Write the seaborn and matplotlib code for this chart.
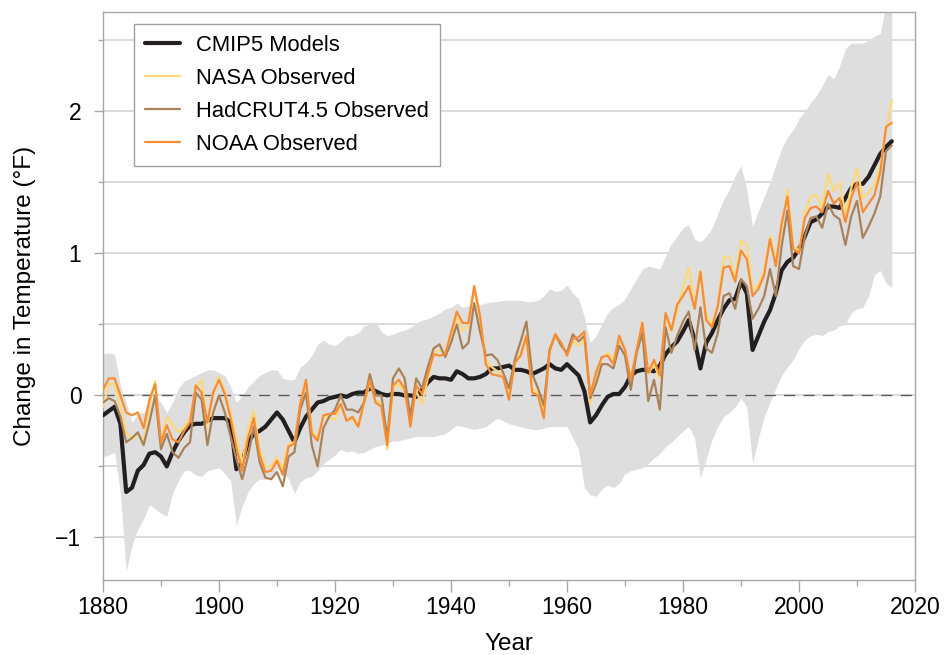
import numpy as np
import pandas as pd
import matplotlib.pyplot as plt
import seaborn as sns
from matplotlib.ticker import MultipleLocator

# annual values (deg F), 1880-2016
years = list(range(1880, 2017))

cmip5 = [
    -0.14, -0.11, -0.08, -0.20, -0.68, -0.65, -0.53, -0.49, -0.41, -0.40,
    -0.43, -0.50, -0.40, -0.32, -0.26, -0.21, -0.20, -0.20, -0.18, -0.16,
    -0.16, -0.16, -0.19, -0.52, -0.47, -0.33, -0.27, -0.25, -0.22, -0.17,
    -0.12, -0.17, -0.25, -0.33, -0.23, -0.15, -0.10, -0.05, -0.04, -0.02,
    -0.01, 0.00, -0.01, 0.01, 0.02, 0.02, 0.05, 0.03, 0.01, 0.00,
    0.01, 0.01, 0.00, 0.00, -0.01, 0.04, 0.09, 0.13, 0.12, 0.12,
    0.11, 0.17, 0.15, 0.12, 0.12, 0.13, 0.15, 0.19, 0.19, 0.20,
    0.21, 0.18, 0.18, 0.17, 0.15, 0.17, 0.19, 0.22, 0.19, 0.18,
    0.22, 0.18, 0.14, 0.03, -0.19, -0.14, -0.07, -0.01, 0.01, 0.01,
    0.06, 0.14, 0.17, 0.18, 0.18, 0.17, 0.21, 0.29, 0.34, 0.38,
    0.45, 0.53, 0.39, 0.19, 0.37, 0.44, 0.53, 0.61, 0.67, 0.68,
    0.80, 0.72, 0.32, 0.42, 0.52, 0.60, 0.72, 0.88, 0.94, 0.97,
    1.03, 1.12, 1.22, 1.24, 1.28, 1.33, 1.33, 1.32, 1.39, 1.46,
    1.49, 1.49, 1.54, 1.62, 1.70, 1.75, 1.79,
]

nasa = [
    -0.08, 0.08, 0.08, -0.08, -0.26, -0.31, -0.27, -0.33, -0.08, 0.10,
    -0.36, -0.15, -0.21, -0.26, -0.22, -0.17, 0.05, 0.11, -0.22, 0.03,
    0.13, 0.03, -0.12, -0.30, -0.48, -0.24, -0.11, -0.38, -0.50, -0.50,
    -0.44, -0.52, -0.34, -0.33, -0.07, 0.09, -0.25, -0.30, -0.15, -0.16,
    -0.17, -0.07, -0.17, -0.17, -0.22, -0.06, 0.09, -0.04, -0.05, -0.38,
    0.05, 0.08, 0.03, -0.18, 0.03, -0.06, 0.12, 0.30, 0.32, 0.30,
    0.42, 0.55, 0.45, 0.50, 0.74, 0.55, 0.26, 0.20, 0.17, 0.15,
    0.00, 0.22, 0.30, 0.42, 0.05, 0.02, -0.10, 0.30, 0.42, 0.36,
    0.30, 0.38, 0.35, 0.40, -0.06, 0.12, 0.26, 0.30, 0.25, 0.40,
    0.33, 0.12, 0.30, 0.52, 0.15, 0.22, 0.12, 0.55, 0.45, 0.60,
    0.76, 0.90, 0.62, 0.88, 0.57, 0.50, 0.63, 0.97, 0.98, 0.82,
    1.09, 1.06, 0.74, 0.78, 0.88, 1.12, 0.95, 1.17, 1.45, 1.05,
    1.02, 1.28, 1.40, 1.41, 1.32, 1.56, 1.44, 1.50, 1.28, 1.46,
    1.60, 1.39, 1.43, 1.48, 1.61, 1.87, 2.08,
]

hadcrut = [
    -0.05, -0.02, -0.04, -0.15, -0.33, -0.30, -0.26, -0.35, -0.19, 0.00,
    -0.38, -0.27, -0.40, -0.44, -0.37, -0.33, 0.02, -0.03, -0.35, -0.12,
    0.00, -0.12, -0.29, -0.45, -0.59, -0.43, -0.22, -0.47, -0.58, -0.59,
    -0.54, -0.64, -0.43, -0.40, -0.10, 0.02, -0.35, -0.50, -0.23, -0.15,
    -0.10, 0.00, -0.10, -0.10, -0.12, -0.05, 0.15, 0.00, 0.00, -0.30,
    0.12, 0.19, 0.12, -0.15, 0.12, 0.05, 0.20, 0.33, 0.36, 0.27,
    0.37, 0.50, 0.33, 0.37, 0.65, 0.45, 0.28, 0.29, 0.25, 0.16,
    0.05, 0.25, 0.38, 0.52, 0.15, 0.05, -0.07, 0.32, 0.43, 0.35,
    0.30, 0.43, 0.38, 0.42, -0.02, 0.08, 0.22, 0.22, 0.19, 0.35,
    0.28, 0.04, 0.30, 0.44, -0.04, 0.11, -0.10, 0.48, 0.30, 0.42,
    0.52, 0.59, 0.32, 0.62, 0.33, 0.30, 0.44, 0.70, 0.72, 0.61,
    0.82, 0.77, 0.54, 0.61, 0.70, 0.89, 0.70, 1.05, 1.30, 0.91,
    0.89, 1.12, 1.25, 1.26, 1.18, 1.35, 1.27, 1.24, 1.06, 1.26,
    1.37, 1.11, 1.19, 1.28, 1.40, 1.72, 1.76,
]

noaa = [
    0.04, 0.12, 0.12, 0.00, -0.12, -0.14, -0.12, -0.23, -0.03, 0.08,
    -0.33, -0.21, -0.31, -0.33, -0.25, -0.19, 0.07, 0.02, -0.19, 0.02,
    0.11, 0.01, -0.16, -0.37, -0.53, -0.30, -0.16, -0.42, -0.54, -0.53,
    -0.46, -0.56, -0.36, -0.34, -0.06, 0.11, -0.27, -0.32, -0.14, -0.13,
    -0.13, -0.06, -0.18, -0.15, -0.22, -0.05, 0.11, -0.05, -0.08, -0.35,
    0.07, 0.11, 0.05, -0.22, 0.07, 0.01, 0.15, 0.29, 0.28, 0.29,
    0.44, 0.59, 0.51, 0.51, 0.77, 0.56, 0.22, 0.15, 0.14, 0.13,
    -0.03, 0.23, 0.28, 0.42, 0.02, 0.00, -0.16, 0.32, 0.43, 0.37,
    0.28, 0.40, 0.41, 0.45, 0.00, 0.16, 0.27, 0.28, 0.22, 0.42,
    0.32, 0.11, 0.32, 0.51, 0.16, 0.25, 0.14, 0.58, 0.46, 0.64,
    0.70, 0.77, 0.61, 0.87, 0.53, 0.48, 0.63, 0.90, 0.91, 0.80,
    1.02, 0.96, 0.70, 0.75, 0.85, 1.10, 0.91, 1.21, 1.40, 1.03,
    1.00, 1.25, 1.32, 1.33, 1.29, 1.44, 1.35, 1.39, 1.22, 1.39,
    1.50, 1.29, 1.35, 1.41, 1.57, 1.89, 1.92,
]

# model spread (shaded range)
band_upper = [
    0.29, 0.30, 0.29, 0.07, -0.05, -0.19, -0.13, -0.12, -0.05, 0.00,
    -0.05, -0.12, -0.05, 0.05, 0.10, 0.12, 0.14, 0.16, 0.18, 0.18,
    0.16, 0.14, 0.06, -0.05, 0.00, 0.06, 0.10, 0.14, 0.16, 0.18,
    0.18, 0.12, 0.11, 0.11, 0.20, 0.23, 0.28, 0.36, 0.39, 0.36,
    0.35, 0.38, 0.42, 0.42, 0.44, 0.49, 0.50, 0.52, 0.45, 0.42,
    0.43, 0.45, 0.46, 0.48, 0.51, 0.53, 0.54, 0.56, 0.58, 0.61,
    0.62, 0.65, 0.62, 0.63, 0.63, 0.64, 0.65, 0.66, 0.66, 0.67,
    0.67, 0.67, 0.67, 0.66, 0.66, 0.67, 0.70, 0.75, 0.73, 0.74,
    0.78, 0.72, 0.68, 0.55, 0.37, 0.42, 0.50, 0.58, 0.62, 0.64,
    0.68, 0.75, 0.82, 0.89, 0.91, 0.90, 0.89, 0.98, 1.07, 1.12,
    1.18, 1.20, 1.10, 1.08, 1.12, 1.18, 1.28, 1.38, 1.45, 1.55,
    1.62, 1.45, 1.19, 1.30, 1.40, 1.50, 1.62, 1.74, 1.82, 1.87,
    1.95, 2.00, 2.06, 2.11, 2.18, 2.26, 2.23, 2.32, 2.44, 2.48,
    2.48, 2.48, 2.50, 2.53, 2.55, 2.75, 2.85,
]

band_lower = [
    -0.43, -0.42, -0.40, -0.69, -1.24, -1.06, -0.94, -0.87, -0.77, -0.80,
    -0.83, -0.85, -0.69, -0.60, -0.53, -0.53, -0.56, -0.57, -0.53, -0.52,
    -0.51, -0.55, -0.60, -0.92, -0.78, -0.68, -0.62, -0.59, -0.59, -0.57,
    -0.52, -0.54, -0.59, -0.69, -0.61, -0.58, -0.57, -0.53, -0.48, -0.45,
    -0.42, -0.38, -0.40, -0.39, -0.41, -0.40, -0.38, -0.36, -0.35, -0.34,
    -0.32, -0.32, -0.31, -0.30, -0.29, -0.29, -0.29, -0.29, -0.28, -0.27,
    -0.24, -0.21, -0.22, -0.23, -0.24, -0.23, -0.22, -0.19, -0.16, -0.18,
    -0.20, -0.21, -0.22, -0.23, -0.24, -0.24, -0.23, -0.22, -0.22, -0.22,
    -0.22, -0.30, -0.38, -0.65, -0.70, -0.71, -0.66, -0.63, -0.65, -0.62,
    -0.55, -0.53, -0.52, -0.51, -0.48, -0.44, -0.41, -0.36, -0.33, -0.29,
    -0.25, -0.22, -0.30, -0.58, -0.45, -0.31, -0.22, -0.15, -0.12, -0.08,
    -0.02, -0.08, -0.48, -0.30, -0.15, -0.05, 0.05, 0.14, 0.20, 0.25,
    0.33, 0.39, 0.42, 0.43, 0.42, 0.45, 0.46, 0.49, 0.50, 0.58,
    0.61, 0.62, 0.70, 0.85, 0.88, 0.79, 0.76,
]

series_names = ["CMIP5 Models", "NASA Observed", "HadCRUT4.5 Observed", "NOAA Observed"]
series_values = [cmip5, nasa, hadcrut, noaa]
series_colors = ["#231f20", "#fdd878", "#a9825a", "#f68d35"]
series_widths = [3.0, 1.6, 1.6, 1.6]

sns.set_theme(style="white")
plt.rcParams['font.family'] = ['Liberation Sans', 'DejaVu Sans']
plt.rcParams['text.color'] = 'black'
plt.rcParams['axes.labelcolor'] = 'black'
plt.rcParams['xtick.labelcolor'] = 'black'
plt.rcParams['ytick.labelcolor'] = 'black'

fig = plt.figure(figsize=(9.5, 6.55), dpi=100)
ax = fig.add_axes([103 / 950, 1 - 580 / 655, 812 / 950, 568 / 655])

ax.set_axisbelow(True)
ax.fill_between(years, band_lower, band_upper, color="#dedede", lw=0, zorder=1)
ax.axhline(0, color="#5a5a5a", lw=1.0, dashes=(8, 6), zorder=2)

for name, vals, col, lw in zip(series_names, series_values, series_colors, series_widths):
    df = pd.DataFrame({"year": years, "value": vals})
    sns.lineplot(data=df, x="year", y="value", ax=ax, color=col,
                 linewidth=lw, label=name, zorder=3)

ax.set_xlim(1880, 2020)
ax.set_ylim(-1.30, 2.70)

ax.xaxis.set_major_locator(MultipleLocator(20))
ax.xaxis.set_minor_locator(MultipleLocator(10))
ax.yaxis.set_major_locator(MultipleLocator(1))
ax.yaxis.set_minor_locator(MultipleLocator(0.5))
ax.yaxis.set_major_formatter(plt.FuncFormatter(lambda v, p: f"{int(v)}".replace("-", "\u2212")))

ax.grid(False)
ax.yaxis.grid(True, which="both", color="#d4d4d4", lw=1.2)

for sp in ax.spines.values():
    sp.set_color("#a6a6a6")
    sp.set_linewidth(1.0)

ax.tick_params(which="both", bottom=True, left=True, direction="out",
               color="#a6a6a6", width=1.0)
ax.tick_params(axis="x", which="major", length=8.5, labelsize=16.5, pad=3)
ax.tick_params(axis="x", which="minor", length=4)
ax.tick_params(axis="y", which="major", length=6.5, labelsize=16.5, pad=9)
ax.tick_params(axis="y", which="minor", length=3.6)

ax.set_xlabel("Year", fontsize=17.5, labelpad=10)
ax.set_ylabel("Change in Temperature (\u00b0F)", fontsize=17.5, labelpad=14)

leg = ax.legend(loc="upper left", bbox_to_anchor=(0.038, 0.979), borderaxespad=0,
                frameon=True, fancybox=False, framealpha=1, edgecolor="#a0a0a0",
                fontsize=15.8, handlelength=1.6, handletextpad=0.75,
                labelspacing=0.55, borderpad=0.5)
leg.get_frame().set_linewidth(1.0)

fig.savefig("out.png", dpi=100)
